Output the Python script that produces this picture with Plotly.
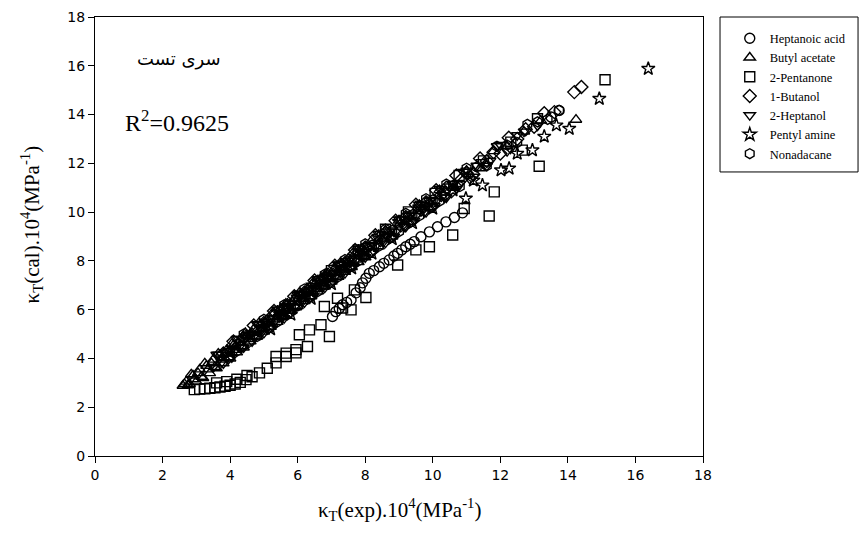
import plotly.graph_objects as go

# Values (kappa_T exp vs cal, x1e4 MPa^-1)

# Heptanoic acid (circles)
heptanoic_x = [7.03, 7.13, 7.23, 7.33, 7.45, 7.58, 7.73, 7.85, 7.92, 8.02, 8.12, 8.25, 8.42, 8.55,
               8.71, 8.85, 8.96, 9.08, 9.2, 9.33, 9.45, 9.65, 9.9, 10.14, 10.39, 10.64, 10.88,
               13.5, 13.74]
heptanoic_y = [5.72, 5.92, 6.05, 6.2, 6.3, 6.4, 6.69, 6.9, 7.1, 7.29, 7.49, 7.6, 7.76, 7.9,
               8.04, 8.2, 8.31, 8.45, 8.58, 8.68, 8.79, 8.99, 9.19, 9.4, 9.6, 9.78, 9.97,
               13.9, 14.17]

# Butyl acetate (triangles)
butyl_x = [2.6, 2.7, 2.8, 2.9, 3.0, 3.1, 3.2, 3.3, 3.4, 3.5, 3.6, 3.7, 3.8, 3.9, 4.0, 4.1, 4.2,
           4.3, 4.4, 4.5, 4.6, 4.7, 4.8, 4.9, 5.0, 5.1, 5.2, 5.3, 5.4, 5.5, 5.6, 5.7, 5.8, 5.9,
           6.0, 6.1, 6.2, 6.3, 6.4, 6.5, 6.6, 6.7, 6.8, 6.9, 7.0, 7.1, 7.2, 7.3, 7.4, 7.5, 7.6,
           7.7, 7.8, 7.9, 8.0, 8.2, 8.4, 8.6, 8.8, 9.0, 9.3, 9.6, 9.9, 10.2, 10.6, 11.0, 11.4,
           11.8, 12.2, 12.7, 13.2, 14.24,
           2.65, 2.75, 2.85, 2.95, 3.05, 3.15, 3.25, 3.35, 3.45, 3.55, 3.65, 3.75, 3.85, 3.95,
           4.05, 4.15, 4.25, 4.35, 4.45, 4.55, 4.65, 4.75, 4.85, 4.95, 5.05, 5.15, 5.25, 5.35,
           5.45, 5.55, 5.65, 5.75, 5.85, 5.95, 6.05, 6.15, 6.25, 6.35, 6.45, 6.55, 6.65, 6.75,
           6.85, 6.95, 7.05, 7.15, 7.25, 7.35, 7.45, 7.55, 7.65, 7.75, 7.85, 7.95]
butyl_y = [2.88, 3.05, 2.95, 3.3, 3.05, 3.55, 3.2, 3.7, 3.4, 3.95, 3.6, 4.15, 3.8, 4.35, 4.0,
           4.55, 4.25, 4.75, 4.45, 4.95, 4.7, 5.2, 4.9, 5.4, 5.1, 5.6, 5.3, 5.85, 5.5, 6.05,
           5.75, 6.25, 5.95, 6.45, 6.15, 6.65, 6.35, 6.85, 6.55, 7.05, 6.75, 7.3, 6.95, 7.5,
           7.15, 7.7, 7.35, 7.9, 7.55, 8.1, 7.75, 8.3, 7.95, 8.5, 8.15, 8.85, 8.6, 9.25, 9.0,
           9.65, 9.6, 10.3, 10.2, 10.9, 11.0, 11.7, 11.8, 12.5, 12.7, 13.3, 13.75, 13.79,
           2.95, 2.9, 3.35, 3.15, 3.4, 3.25, 3.8, 3.55, 3.8, 3.65, 4.2, 3.95, 4.2, 4.05, 4.6,
           4.35, 4.65, 4.5, 5.05, 4.8, 5.05, 4.9, 5.45, 5.2, 5.45, 5.3, 5.85, 5.6, 5.85, 5.7,
           6.25, 6.0, 6.3, 6.1, 6.7, 6.45, 6.7, 6.55, 7.1, 6.85, 7.1, 6.95, 7.5, 7.25, 7.5,
           7.35, 7.9, 7.65, 7.9, 7.75, 8.35, 8.05, 8.35, 8.2]

# 2-Pentanone (squares)
pentanone_x = [2.94, 3.1, 3.25, 3.4, 3.55, 3.7, 3.85, 4.0, 4.15, 4.3, 4.47, 4.65, 4.87, 5.1,
               5.36, 5.66, 5.95, 3.6, 3.9, 4.2, 4.5, 5.36, 5.66, 5.95, 6.29, 6.05, 6.35, 6.69,
               6.94, 6.79, 7.18, 7.33, 7.58, 7.68, 8.02, 8.96, 9.5, 9.9, 10.59, 10.93, 11.67,
               11.82, 13.15, 6.4, 7.0, 7.8, 8.6, 9.28, 10.07, 10.78, 11.5, 12.31, 12.65, 13.1,
               15.1]
pentanone_y = [2.72, 2.74, 2.76, 2.78, 2.8, 2.83, 2.86, 2.9, 2.95, 3.02, 3.13, 3.25, 3.41, 3.6,
               3.82, 4.08, 4.23, 3.0, 3.05, 3.15, 3.3, 4.08, 4.22, 4.36, 4.49, 4.97, 5.17, 5.38,
               4.9, 6.13, 6.47, 6.07, 5.99, 6.81, 6.5, 7.83, 8.45, 8.58, 9.06, 10.15, 9.84,
               10.83, 11.88, 6.88, 7.6, 8.45, 9.3, 10.01, 10.77, 11.5, 12.1, 12.87, 12.54, 13.83,
               15.43]

# 1-Butanol (diamonds)
butanol_x = [3.8, 3.95, 4.1, 4.25, 4.4, 4.55, 4.7, 4.85, 5.0, 5.15, 5.3, 5.45, 5.6, 5.75, 5.9,
             6.05, 6.2, 6.35, 6.5, 6.65, 6.8, 6.95, 7.1, 7.25, 7.4, 7.55, 7.7, 7.85, 8.0, 8.15,
             8.3, 8.45, 8.6, 8.75, 8.9, 9.05, 9.2, 9.35, 9.5, 9.65, 9.8, 9.95, 10.1, 10.25, 10.4,
             10.55, 10.7, 10.85, 11.0, 11.2, 11.4, 11.6, 11.8, 12.0, 12.25, 12.5, 12.75, 13.0,
             13.3, 13.6, 14.19, 14.4]
butanol_y = [4.2, 4.05, 4.7, 4.55, 4.85, 4.7, 5.35, 5.15, 5.45, 5.3, 5.95, 5.75, 6.05, 5.9,
             6.55, 6.4, 6.7, 6.55, 7.2, 7.0, 7.3, 7.15, 7.8, 7.6, 7.9, 7.8, 8.45, 8.25, 8.55,
             8.4, 9.05, 8.85, 9.15, 9.0, 9.65, 9.45, 9.8, 9.65, 10.3, 10.1, 10.4, 10.25, 10.9,
             10.7, 11.0, 10.85, 11.5, 11.35, 11.6, 11.55, 12.2, 12.1, 12.45, 12.4, 13.05, 13.0,
             13.4, 13.5, 14.05, 14.1, 14.92, 15.13]

# 2-Heptanol (inverted triangles)
heptanol_x = [3.5, 3.65, 3.8, 3.95, 4.1, 4.25, 4.4, 4.55, 4.7, 4.85, 5.0, 5.15, 5.3, 5.45, 5.6,
              5.75, 5.9, 6.05, 6.2, 6.35, 6.5, 6.65, 6.8, 6.95, 7.1, 7.25, 7.4, 7.55, 7.7, 7.85,
              8.0, 8.15, 8.3, 8.45, 8.6, 8.75, 8.9, 9.05, 9.2, 9.35, 9.5, 9.65, 9.8, 9.95, 10.1,
              10.25, 10.4, 10.6, 10.8, 11.0, 11.2, 11.45, 11.7, 12.0, 12.3, 12.7, 13.1,
              3.6, 3.75, 3.9, 4.05, 4.2, 4.35, 4.5, 4.65, 4.8, 4.95, 5.1, 5.25, 5.4, 5.55, 5.7,
              5.85, 6.0, 6.15, 6.3, 6.45, 6.6, 6.75, 6.9, 7.05, 7.2, 7.35, 7.5, 7.65, 7.8, 7.95,
              8.1, 8.25, 8.4, 8.55, 8.7, 8.85, 9.0, 9.15, 9.3, 9.45, 9.6, 9.75, 9.9, 10.05, 10.2,
              10.35, 10.5, 10.7, 10.9, 11.1, 11.3, 11.6, 11.9, 12.2, 12.5]
heptanol_y = [3.65, 4.15, 3.8, 4.3, 4.25, 4.8, 4.45, 4.95, 4.9, 5.4, 5.05, 5.55, 5.5, 6.0,
              5.65, 6.15, 6.1, 6.65, 6.3, 6.8, 6.75, 7.25, 6.9, 7.4, 7.35, 7.85, 7.5, 8.05, 8.0,
              8.5, 8.15, 8.65, 8.6, 9.1, 8.75, 9.25, 9.2, 9.7, 9.4, 9.9, 9.85, 10.35, 10.0, 10.5,
              10.45, 10.95, 10.6, 11.15, 11.15, 11.7, 11.45, 12.05, 12.1, 12.75, 12.6, 13.3,
              13.55,
              4.15, 3.85, 4.25, 4.05, 4.8, 4.45, 4.9, 4.7, 5.4, 5.1, 5.5, 5.3, 6.0, 5.7, 6.1,
              5.95, 6.6, 6.35, 6.75, 6.55, 7.25, 6.95, 7.35, 7.15, 7.85, 7.55, 8.0, 7.8, 8.5,
              8.2, 8.6, 8.4, 9.1, 8.8, 9.2, 9.0, 9.7, 9.4, 9.85, 9.65, 10.3, 10.0, 10.45, 10.25,
              10.95, 10.6, 11.05, 10.95, 11.65, 11.35, 11.9, 11.9, 12.7, 12.5, 13.15]

# Pentyl amine (stars)
pentyl_x = [5.0, 5.2, 5.4, 5.6, 5.8, 6.0, 6.2, 6.4, 6.6, 6.8, 7.0, 7.2, 7.4, 7.6, 7.8, 8.0,
            8.2, 8.4, 8.6, 8.8, 9.0, 9.2, 9.4, 9.6, 9.8, 10.0, 10.3, 10.6, 10.98, 11.2, 11.47,
            12.02, 12.26, 12.5, 12.95, 13.3, 13.66, 14.04, 14.93, 16.38]
pentyl_y = [5.25, 5.2, 5.9, 5.85, 5.8, 6.5, 6.5, 6.45, 7.15, 7.1, 7.05, 7.75, 7.7, 7.7, 8.4,
            8.35, 8.3, 9.0, 8.95, 8.9, 9.6, 9.6, 9.55, 10.2, 10.2, 10.15, 10.7, 10.9, 10.56,
            11.3, 11.1, 11.72, 11.79, 12.4, 12.54, 13.1, 13.56, 13.42, 14.65, 15.88]

# Nonadacane (hexagons)
nonadacane_x = [4.0, 4.2, 4.4, 4.6, 4.8, 5.0, 5.2, 5.4, 5.6, 5.8, 6.0, 6.2, 6.4, 6.6, 6.8, 7.0,
                7.2, 7.4, 7.6, 7.8, 8.0, 8.2, 8.4, 8.6, 8.8, 9.0, 9.2, 9.4, 9.6, 9.8, 10.0, 10.2,
                10.4, 10.6, 10.8, 11.0, 11.3, 11.6, 11.9, 12.2, 12.5, 12.8, 13.1, 13.4, 13.74]
nonadacane_y = [4.3, 4.3, 5.0, 4.95, 4.9, 5.6, 5.55, 5.5, 6.2, 6.15, 6.15, 6.85, 6.8, 6.75,
                7.45, 7.4, 7.35, 8.05, 8.0, 8.0, 8.7, 8.65, 8.6, 9.3, 9.25, 9.2, 9.95, 9.9, 9.85,
                10.55, 10.5, 10.45, 11.15, 11.1, 11.05, 11.8, 11.85, 11.9, 12.7, 12.75, 12.85,
                13.6, 13.7, 13.8, 14.17]

axis_ticks = [0, 2, 4, 6, 8, 10, 12, 14, 16, 18]

series = [
    ("Heptanoic acid", heptanoic_x, heptanoic_y, "circle-open"),
    ("Butyl acetate", butyl_x, butyl_y, "triangle-up-open"),
    ("2-Pentanone", pentanone_x, pentanone_y, "square-open"),
    ("1-Butanol", butanol_x, butanol_y, "diamond-open"),
    ("2-Heptanol", heptanol_x, heptanol_y, "triangle-down-open"),
    ("Pentyl amine", pentyl_x, pentyl_y, "star-open"),
    ("Nonadacane", nonadacane_x, nonadacane_y, "hexagon-open"),
]

fig = go.Figure()
for name, xs, ys, sym in series:
    fig.add_trace(go.Scatter(
        x=xs, y=ys, mode="markers", name=name,
        marker=dict(symbol=sym, size=10, color="black", line=dict(width=1.4, color="black")),
    ))

serif = "Liberation Serif, Times New Roman, serif"
ticks_font = dict(family="DejaVu Sans, Arial, sans-serif", size=14, color="black")

axis_common = dict(
    range=[0, 18], tickvals=axis_ticks, ticks="outside", ticklen=6, tickcolor="black",
    showline=True, linecolor="black", linewidth=1, mirror=True, showgrid=False, zeroline=False,
    tickfont=ticks_font, automargin=False,
)

fig.update_layout(
    width=864, height=547,
    margin=dict(l=95, r=161, t=17, b=91),
    paper_bgcolor="white", plot_bgcolor="white",
    xaxis=axis_common,
    yaxis=axis_common,
    legend=dict(x=1.044, y=0.985, xanchor="left", yanchor="top",
                font=dict(family=serif, size=12.5, color="black"),
                bgcolor="rgba(0,0,0,0)", borderwidth=0),
    showlegend=True,
)

# Legend frame
fig.add_shape(type="rect", xref="paper", yref="paper",
              x0=1.028, x1=1.255, y0=0.647, y1=1.0,
              line=dict(color="black", width=1))

# Axis titles
fig.add_annotation(text="κ<sub>T</sub>(exp).10<sup>4</sup>(MPa<sup>-1</sup>)",
                   xref="paper", yref="paper", x=0.5, y=-0.122,
                   xanchor="center", yanchor="middle", showarrow=False,
                   font=dict(family=serif, size=21, color="black"))
fig.add_annotation(text="κ<sub>T</sub>(cal).10<sup>4</sup>(MPa<sup>-1</sup>)",
                   xref="paper", yref="paper", x=-0.104, y=0.527, textangle=-90,
                   xanchor="center", yanchor="middle", showarrow=False,
                   font=dict(family=serif, size=21, color="black"))

fig.add_annotation(text="سری تست", xref="paper", yref="paper", x=0.138, y=0.904,
                   xanchor="center", yanchor="middle", showarrow=False,
                   font=dict(family="DejaVu Serif, DejaVu Sans, serif", size=18, color="black"))
fig.add_annotation(text="R<sup>2</sup>=0.9625", xref="paper", yref="paper", x=0.135, y=0.763,
                   xanchor="center", yanchor="middle", showarrow=False,
                   font=dict(family=serif, size=24, color="black"))

fig.write_html("out.html", config={"displayModeBar": False},
               post_script="document.body.style.margin = '0px';")
